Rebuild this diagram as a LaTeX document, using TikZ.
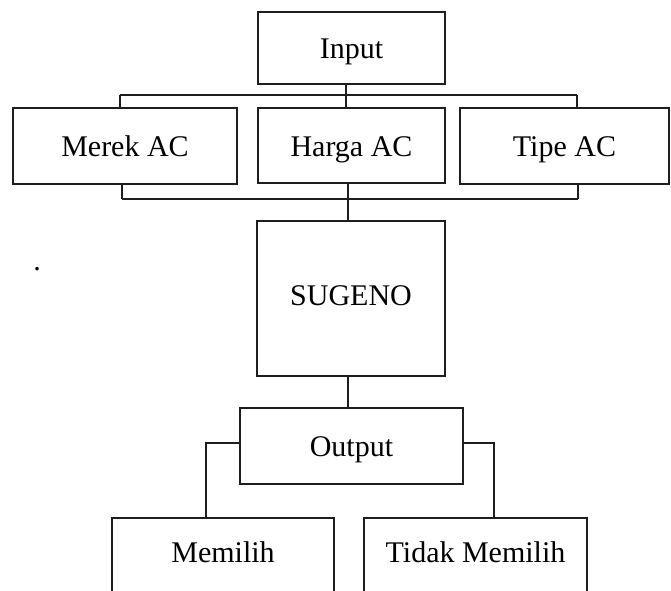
\documentclass[tikz,border=0pt]{standalone}
\usepackage{fontspec}
\setmainfont{Liberation Serif}
\usetikzlibrary{positioning, calc}
\definecolor{lineColor}{RGB}{30, 30, 30}

\begin{document}
\begin{tikzpicture}[
        x=1pt, y=-1pt,
        kotak/.style={
            rectangle,
            draw=lineColor,
            line width=1.9pt,
            inner sep=0pt,
            align=center,
            text height=21pt,
            text depth=0pt,
            font=\fontsize{30}{34}\selectfont
        },
        kotakbawah/.style={
            kotak,
            text height=21pt,
            text depth=14pt
        },
        garis/.style={
            draw=lineColor,
            line width=1.9pt
        }
    ]

    \useasboundingbox (0,0) rectangle (671,590);
    \clip (0,0) rectangle (671,590);

    \node[kotak, minimum width=187pt, minimum height=72pt] (input) at (351.5,48) {Input};
    \node[kotak, minimum width=224pt, minimum height=76pt, text depth=-4pt] (merek) at (125,146) {Merek AC};
    \node[kotak, minimum width=187pt, minimum height=75pt] (harga) at (351.5,145.5) {Harga AC};
    \node[kotak, minimum width=209pt, minimum height=76pt, text depth=-4pt] (tipe) at (564.5,146) {Tipe AC};
    \node[kotak, minimum width=188pt, minimum height=155pt, text depth=8pt] (sugeno) at (351,298.5) {SUGENO};
    \node[kotak, minimum width=223pt, minimum height=76pt] (output) at (351.5,446) {Output};
    \node[kotakbawah, minimum width=222pt, minimum height=82pt] (memilih) at (223,559) {Memilih};
    \node[kotakbawah, minimum width=223pt, minimum height=82pt] (tidak) at (475.5,559) {Tidak Memilih};
    \node[font=\fontsize{30}{34}\selectfont, inner sep=0pt, anchor=base] (titik) at (37,270) {.};

    % input ke kriteria
    \coordinate (busT) at (346,95);
    \coordinate (busTL) at (120,95);
    \coordinate (busTR) at (577,95);
    \draw[garis] (input.south -| busT) -- (busT);
    \draw[garis] (busTL) -- (busTR);
    \draw[garis] (busTL) -- (merek.north -| busTL);
    \draw[garis] (busT) -- (harga.north -| busT);
    \draw[garis] (busTR) -- (tipe.north -| busTR);

    % kriteria ke sugeno
    \coordinate (busB) at (348,199);
    \coordinate (busBL) at (122,199);
    \coordinate (busBR) at (578,199);
    \draw[garis] (busBL) -- (busBR);
    \draw[garis] (merek.south -| busBL) -- (busBL);
    \draw[garis] (harga.south -| busB) -- (busB);
    \draw[garis] (tipe.south -| busBR) -- (busBR);
    \draw[garis] (busB) -- (sugeno.north -| busB);

    % sugeno ke output
    \draw[garis] (sugeno.south -| busB) -- (output.north -| busB);
    \coordinate (belokL) at (206,443);
    \coordinate (belokR) at (494,443);
    \draw[garis] (output.west |- belokL) -- (belokL) -- (memilih.north -| belokL);
    \draw[garis] (output.east |- belokR) -- (belokR) -- (tidak.north -| belokR);

\end{tikzpicture}
\end{document}
